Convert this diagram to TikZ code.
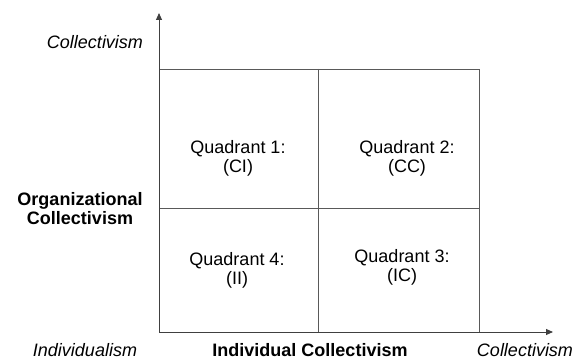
\documentclass[tikz,border=0pt]{standalone}
\usepackage{fontspec}
\setmainfont{Liberation Sans}
\usetikzlibrary{arrows.meta,positioning}

\begin{document}
\begin{tikzpicture}[
    x=1pt, y=1pt,
    grid/.style={draw=black!65, line width=0.9pt},
    axis/.style={draw=black!75, line width=0.9pt, -{Triangle[length=7pt,width=6pt]}},
    quad/.style={align=center, font=\fontsize{18}{19}\selectfont, inner sep=0pt},
    pole/.style={font=\fontsize{18}{19}\selectfont\itshape, inner sep=0pt},
    dim/.style={align=center, font=\fontsize{18}{19}\selectfont\bfseries, inner sep=0pt}
]
\useasboundingbox (0,0) rectangle (581,361);

% axes and grid corners
\coordinate (o) at (159,29);
\coordinate (ytip) at (159,348);
\coordinate (xtip) at (553,29);
\coordinate (tl) at (159,292);
\coordinate (tr) at (479,292);
\coordinate (br) at (479,29);
\coordinate (mt) at (318,292);
\coordinate (mb) at (318,29);
\coordinate (ml) at (159,153);
\coordinate (mr) at (479,153);

\draw[grid] (tl) -- (tr) -- (br);
\draw[grid] (mt) -- (mb);
\draw[grid] (ml) -- (mr);
\draw[axis] (o) -- (ytip);
\draw[axis] (o) -- (xtip);

% quadrants
\node[quad] (q1) at (238,203) {Quadrant 1:\\(CI)};
\node[quad] (q2) at (407,203) {Quadrant 2:\\(CC)};
\node[quad] (q4) at (237,91) {Quadrant 4:\\(II)};
\node[quad] (q3) at (402,94) {Quadrant 3:\\(IC)};

% axis labels
\node[pole] (ytop) at (95,319) {Collectivism};
\node[dim] (ylab) at (80,152) {Organizational\\Collectivism};
\node[pole] (xlow) at (85,11) {Individualism};
\node[dim] (xlab) at (310,11) {Individual Collectivism};
\node[pole] (xhigh) at (525,11) {Collectivism};
\end{tikzpicture}
\end{document}
